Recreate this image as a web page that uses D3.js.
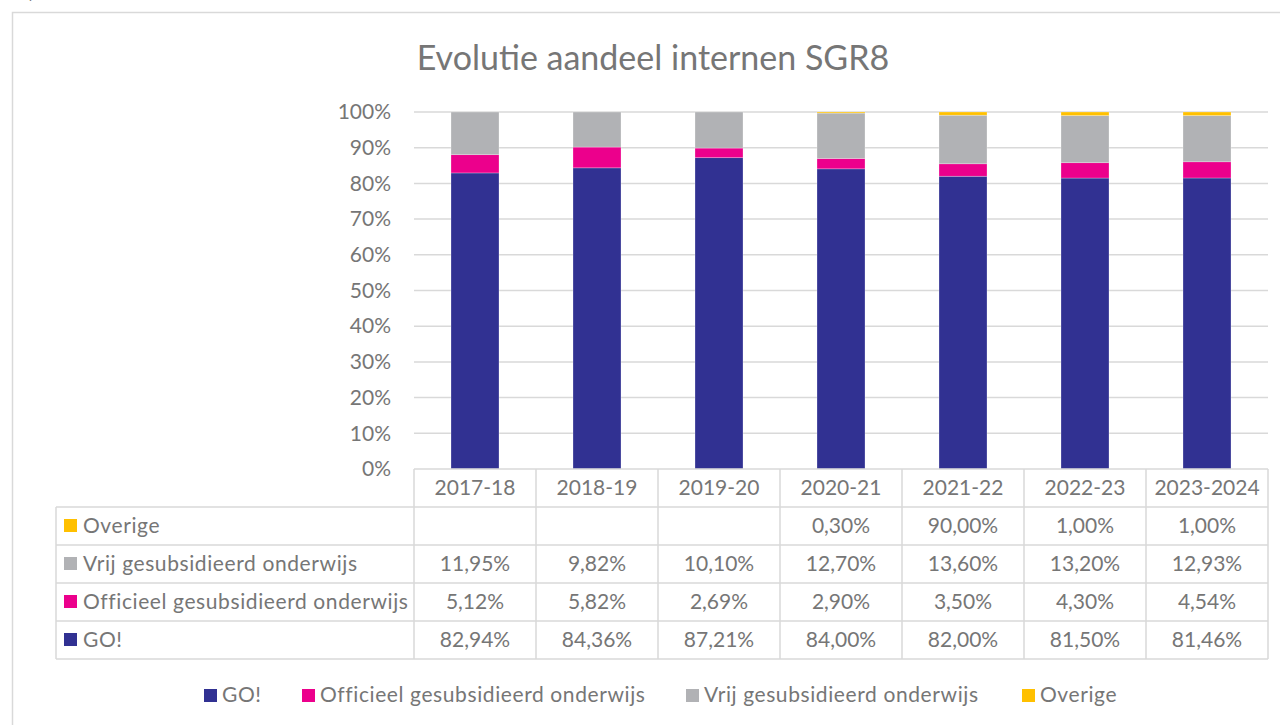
<!DOCTYPE html>
<html>
<head>
<meta charset="utf-8">
<script src="https://cdn.jsdelivr.net/npm/d3@7"></script>
<style>
  body { margin: 0; background: #fff; }
  svg text { font-family: Lato, "Open Sans", sans-serif; fill: #767676; }
</style>
</head>
<body>
<svg id="chart" width="1280" height="725"></svg>
<script>
const years = ["2017-18", "2018-19", "2019-20", "2020-21", "2021-22", "2022-23", "2023-2024"];
const go = [82.94, 84.36, 87.21, 84.0, 82.0, 81.5, 81.46];
const officieel = [5.12, 5.82, 2.69, 2.9, 3.5, 4.3, 4.54];
const vrij = [11.95, 9.82, 10.1, 12.7, 13.6, 13.2, 12.93];
const overige = [0, 0, 0, 0.3, 0.9, 1.0, 1.0];
// the table prints this row as it appears in the source (incl. the 90,00%)
const overigeLabels = ["", "", "", "0,30%", "90,00%", "1,00%", "1,00%"];
const yTicks = [0, 0.1, 0.2, 0.3, 0.4, 0.5, 0.6, 0.7, 0.8, 0.9, 1];

const series = [
  { key: "go", name: "GO!", values: go, color: "#313192" },
  { key: "officieel", name: "Officieel gesubsidieerd onderwijs", values: officieel, color: "#ec008c" },
  { key: "vrij", name: "Vrij gesubsidieerd onderwijs", values: vrij, color: "#b1b2b5" },
  { key: "overige", name: "Overige", values: overige, color: "#ffc000" }
];

const width = 1280, height = 725;
const margin = { top: 112, left: 414, right: 12 };
const plotBottom = 469;
const innerWidth = width - margin.left - margin.right;
const rowH = 38;
const fs = 21;
const nameSpacing = 0.6;

const svg = d3.select("#chart");

// outer frame and clipped caption
svg.append("text").attr("x", 2).attr("y", -1).attr("font-size", 18)
  .attr("font-style", "italic").text("Grafiek 13");
svg.append("rect").attr("x", 12.5).attr("y", 12.5).attr("width", 1290).attr("height", 740)
  .attr("fill", "none").attr("stroke", "#d9d9d9").attr("stroke-width", 1.5);

svg.append("text").attr("x", 653).attr("y", 70).attr("text-anchor", "middle")
  .attr("font-size", 34).text("Evolutie aandeel internen SGR8");

const rows = years.map((y, i) => {
  const r = { year: y };
  series.forEach((s) => { r[s.key] = s.values[i]; });
  return r;
});
const stacked = d3.stack().keys(series.map((s) => s.key)).offset(d3.stackOffsetExpand)(rows);

const x = d3.scaleBand().domain(years).range([margin.left, margin.left + innerWidth]).paddingInner(0).paddingOuter(0);
const y = d3.scaleLinear().domain([0, 1]).range([plotBottom, margin.top]);

// grid
svg.append("g").selectAll("line").data(yTicks.filter((t) => t > 0)).join("line")
  .attr("x1", margin.left).attr("x2", margin.left + innerWidth)
  .attr("y1", (d) => y(d)).attr("y2", (d) => y(d))
  .attr("stroke", "#d9d9d9").attr("stroke-width", 1.5);

// y axis labels
const yAxis = svg.append("g").attr("transform", `translate(${margin.left - 23},0)`)
  .call(d3.axisLeft(y).tickValues(yTicks).tickFormat(d3.format(".0%")).tickSize(0));
yAxis.select(".domain").remove();
yAxis.selectAll("text").attr("font-size", fs).attr("fill", "#767676")
  .attr("font-family", "Lato, 'Open Sans', sans-serif").attr("dy", "0.32em").attr("x", 0);

// bars
const barW = 48;
const colorOf = Object.fromEntries(series.map((s) => [s.key, s.color]));
svg.append("g").selectAll("g").data(stacked).join("g")
  .attr("fill", (d) => colorOf[d.key])
  .selectAll("rect").data((d) => d).join("rect")
  .attr("x", (d) => x(d.data.year) + (x.bandwidth() - barW) / 2)
  .attr("width", barW)
  .attr("y", (d) => y(d[1]))
  .attr("height", (d) => Math.max(0, y(d[0]) - y(d[1])))
  .attr("stroke", "#ffffff").attr("stroke-opacity", 0.35).attr("stroke-width", 0.75);

// data table
const fmt = (v) => v.toFixed(2).replace(".", ",") + "%";
const tableRows = [
  { s: series[3], labels: overigeLabels },
  { s: series[2], labels: vrij.map(fmt) },
  { s: series[1], labels: officieel.map(fmt) },
  { s: series[0], labels: go.map(fmt) }
];
const tableLeft = 56;
const table = svg.append("g");
const lineColor = "#d9d9d9";

// header row
years.forEach((yr) => {
  table.append("text").attr("x", x(yr) + x.bandwidth() / 2).attr("y", plotBottom + rowH / 2)
    .attr("dy", "0.35em").attr("text-anchor", "middle").attr("font-size", fs).text(yr);
});
// horizontal lines
const hl = [plotBottom, ...tableRows.map((_, i) => plotBottom + rowH * (i + 1))];
hl.forEach((yy, i) => {
  table.append("line").attr("x1", i === 0 ? margin.left : tableLeft).attr("x2", margin.left + innerWidth)
    .attr("y1", yy).attr("y2", yy).attr("stroke", lineColor).attr("stroke-width", 1.5);
});
const tableBottom = plotBottom + rowH * (tableRows.length + 1);
table.append("line").attr("x1", tableLeft).attr("x2", margin.left + innerWidth)
  .attr("y1", tableBottom).attr("y2", tableBottom).attr("stroke", lineColor).attr("stroke-width", 1.5);
// vertical lines
table.append("line").attr("x1", tableLeft).attr("x2", tableLeft).attr("y1", plotBottom + rowH).attr("y2", tableBottom)
  .attr("stroke", lineColor).attr("stroke-width", 1.5);
[...years.map((yr) => x(yr)), margin.left + innerWidth].forEach((xx) => {
  table.append("line").attr("x1", xx).attr("x2", xx).attr("y1", plotBottom).attr("y2", tableBottom)
    .attr("stroke", lineColor).attr("stroke-width", 1.5);
});

tableRows.forEach((r, i) => {
  const cy = plotBottom + rowH * (i + 1) + rowH / 2;
  table.append("rect").attr("x", 64).attr("y", cy - 7).attr("width", 13).attr("height", 13).attr("fill", r.s.color);
  table.append("text").attr("x", 83).attr("y", cy).attr("dy", "0.35em").attr("font-size", fs)
    .attr("letter-spacing", nameSpacing).text(r.s.name);
  r.labels.forEach((lab, j) => {
    table.append("text").attr("x", x(years[j]) + x.bandwidth() / 2).attr("y", cy).attr("dy", "0.35em")
      .attr("text-anchor", "middle").attr("font-size", fs).text(lab);
  });
});

// legend
const legendX = [204, 302, 686, 1022];
const legend = svg.append("g");
series.forEach((s, i) => {
  legend.append("rect").attr("x", legendX[i]).attr("y", 689).attr("width", 13).attr("height", 13).attr("fill", s.color);
  legend.append("text").attr("x", legendX[i] + 18).attr("y", 695).attr("dy", "0.35em").attr("font-size", fs)
    .attr("letter-spacing", nameSpacing).text(s.name);
});
</script>
</body>
</html>
